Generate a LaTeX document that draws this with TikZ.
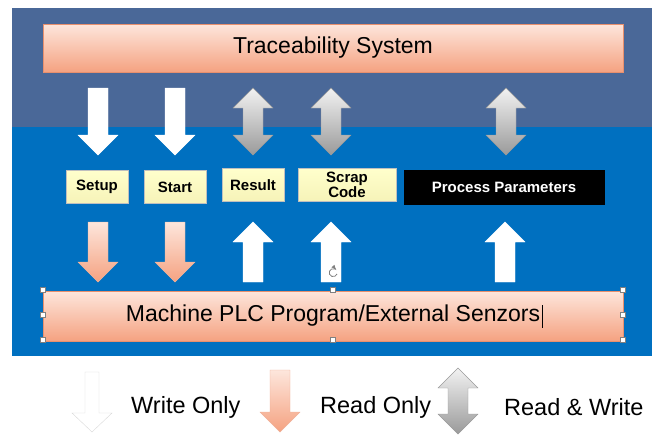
\documentclass[tikz,border=0pt]{standalone}
\usepackage{fontspec}
\setmainfont{Liberation Sans}
\usetikzlibrary{positioning}

\definecolor{topband}{HTML}{4A6898}
\definecolor{plcblue}{HTML}{0070C0}
\definecolor{salmonlt}{HTML}{FDE6DC}
\definecolor{salmondk}{HTML}{F5A281}
\definecolor{salmonln}{HTML}{E8906E}
\definecolor{tagfill}{HTML}{FFFFCC}
\definecolor{tagfilldk}{HTML}{F6F3B8}
\definecolor{greylt}{HTML}{F2F2F2}
\definecolor{greydk}{HTML}{9A9A9A}

\tikzset{
  sysbox/.style={draw=salmonln, top color=salmonlt, bottom color=salmondk,
    minimum width=580, minimum height=48, inner sep=0,
    font=\fontsize{23}{26}\selectfont},
  tagbox/.style={draw=black!25, top color=tagfill, bottom color=tagfilldk,
    minimum height=33, inner sep=1, align=center,
    font=\bfseries\fontsize{15}{15}\selectfont},
  parbox/.style={fill=black, text=white, minimum width=201, minimum height=35,
    inner sep=1, font=\bfseries\fontsize{15}{15}\selectfont},
  writearr/.style={fill=white, draw=white},
  readarr/.style={draw=salmonln!70, top color=salmonlt, bottom color=salmondk},
  rwarr/.style={draw=greydk, top color=greylt, bottom color=greydk},
  legtext/.style={anchor=west, inner sep=0, font=\fontsize{23.5}{26}\selectfont},
  handle/.style={draw=black!50, fill=white, minimum size=5, inner sep=0}
}

% block arrows: x, top y, bottom y, style
\newcommand{\arrdown}[4]{%
  \draw[#4] (#1-10,#2) -- (#1+10,#2) -- (#1+10,#3-20) -- (#1+20,#3-20)
    -- (#1,#3) -- (#1-20,#3-20) -- (#1-10,#3-20) -- cycle;}
\newcommand{\arrup}[4]{%
  \draw[#4] (#1,#2) -- (#1+20,#2+20) -- (#1+10,#2+20) -- (#1+10,#3)
    -- (#1-10,#3) -- (#1-10,#2+20) -- (#1-20,#2+20) -- cycle;}
\newcommand{\arrboth}[4]{%
  \draw[#4] (#1,#2) -- (#1+20,#2+20) -- (#1+10,#2+20) -- (#1+10,#3-20)
    -- (#1+20,#3-20) -- (#1,#3) -- (#1-20,#3-20) -- (#1-10,#3-20)
    -- (#1-10,#2+20) -- (#1-20,#2+20) -- cycle;}

\begin{document}
\begin{tikzpicture}[x=1pt,y=-1pt]
  \useasboundingbox (0,0) rectangle (662,437);

  % background panel
  \fill[topband] (12,8) rectangle (652,127);
  \fill[plcblue] (12,127) rectangle (652,356);

  \node[sysbox] (trace) at (333,48) {Traceability System};
  \node[sysbox, minimum height=50] (plc) at (333,316)
    {Machine PLC Program/External Senzors};
  \draw[black, line width=0.6pt] (542,305) -- (542,328);

  \node[tagbox, minimum width=62] (setup) at (97,187) {Setup};
  \node[tagbox, minimum width=62] (start) at (175,187) {Start};
  \node[tagbox, minimum width=62] (result) at (253,185) {Result};
  \node[tagbox, minimum width=98, inner sep=0] (scrap) at (347,185) {Scrap\\Code};
  \node[parbox] (param) at (504,187) {Process Parameters};

  % traceability -> tags
  \arrdown{98}{88}{155}{writearr}
  \arrdown{175}{88}{155}{writearr}
  \arrboth{253}{88}{155}{rwarr}
  \arrboth{331}{88}{155}{rwarr}
  \arrboth{506}{88}{155}{rwarr}

  % tags <-> machine
  \arrdown{98}{222}{282}{readarr}
  \arrdown{175}{222}{282}{readarr}
  \arrup{253}{222}{282}{writearr}
  \arrup{331}{222}{282}{writearr}
  \arrup{505}{222}{282}{writearr}

  % selection handles
  \foreach \hx/\hy [count=\i] in {43/290,333/290,623/290,43/315,623/315,
      43/340,333/340,623/340}
    \node[handle] (h\i) at (\hx,\hy) {};
  \draw[black!50, line width=0.8pt, -latex] (337,274) arc (20:320:4);

  % legend
  \draw[draw=black!15, fill=white] (85,372) -- (99,372) -- (99,413) -- (112,413)
    -- (92,432) -- (72,413) -- (85,413) -- cycle;
  \node[legtext] (wonly) at (131,407) {Write Only};
  \arrdown{280}{370}{432}{readarr}
  \node[legtext] (ronly) at (320,407) {Read Only};
  \arrboth{458}{368}{434}{rwarr}
  \node[legtext] (rw) at (504,407) {Read \& Write};
\end{tikzpicture}
\end{document}
